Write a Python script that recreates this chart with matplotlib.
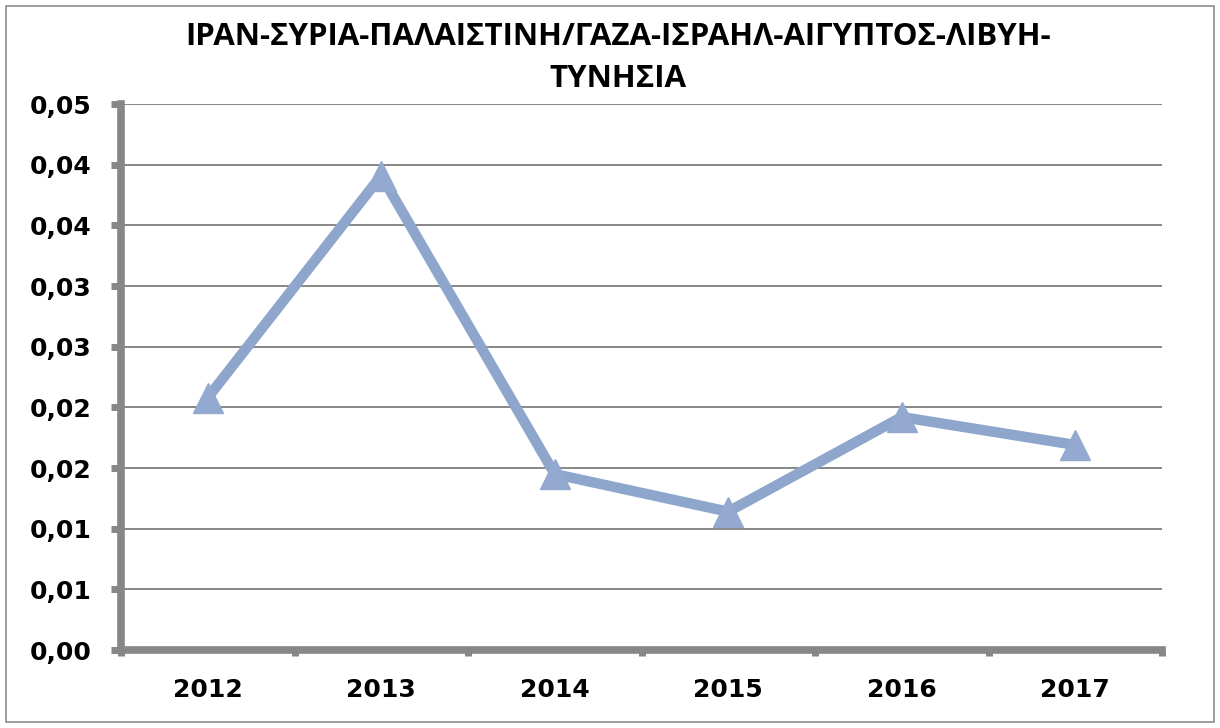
import matplotlib.pyplot as plt
from matplotlib.patches import Rectangle

# data
years = ['2012', '2013', '2014', '2015', '2016', '2017']
values = [0.0208, 0.0391, 0.0145, 0.0114, 0.0192, 0.0169]
y_ticks = [0, 0.005, 0.01, 0.015, 0.02, 0.025, 0.03, 0.035, 0.04, 0.045]
y_labels = ['0,00', '0,01', '0,01', '0,02', '0,02', '0,03', '0,03', '0,04', '0,04', '0,05']
title = 'ΙΡΑΝ-ΣΥΡΙΑ-ΠΑΛΑΙΣΤΙΝΗ/ΓΑΖΑ-ΙΣΡΑΗΛ-ΑΙΓΥΠΤΟΣ-ΛΙΒΥΗ-\nΤΥΝΗΣΙΑ'

grey = '#878787'
line_col = '#8EA6CC'

fig = plt.figure(figsize=(12.2, 7.28), dpi=100)
ax = fig.add_axes([121 / 1220, 78 / 728, 1041 / 1220, 546 / 728])

x = range(len(years))
ax.plot(x, values, color=line_col, lw=7.5, marker='^', markersize=22,
        markerfacecolor='#93A9D0', markeredgecolor='#93A9D0', solid_joinstyle='miter')

ax.set_xlim(-0.5, len(years) - 0.5)
ax.set_ylim(0, 0.045)
ax.set_yticks(y_ticks)
ax.set_yticklabels(y_labels)
ax.set_xticks(list(x))
ax.set_xticklabels(years)
ax.set_xticks([i - 0.5 for i in range(len(years) + 1)], minor=True)

for lbl in ax.get_yticklabels() + ax.get_xticklabels():
    lbl.set_fontfamily('DejaVu Sans')
    lbl.set_fontweight('bold')
    lbl.set_fontsize(18)

ax.tick_params(axis='y', length=7, width=5, color=grey, pad=14)
ax.tick_params(axis='x', which='major', length=0, pad=20)
ax.tick_params(axis='x', which='minor', length=4, width=5, color=grey)

ax.grid(axis='y', color=grey, lw=1.4)
ax.set_axisbelow(True)
for s in ['top', 'right']:
    ax.spines[s].set_visible(False)
for s in ['left', 'bottom']:
    ax.spines[s].set_color(grey)
    ax.spines[s].set_linewidth(5.5)

fig.text(618 / 1220, 1 - 58 / 728, title, ha='center', va='center', fontsize=22.5,
         fontweight='bold', family='Open Sans', linespacing=1.5)

fig.patches.append(Rectangle((6 / 1220, 6 / 728), 1208 / 1220, 716 / 728,
                             transform=fig.transFigure, fill=False,
                             edgecolor='#8c8c8c', lw=1.2))

fig.savefig('out.png', dpi=100)
